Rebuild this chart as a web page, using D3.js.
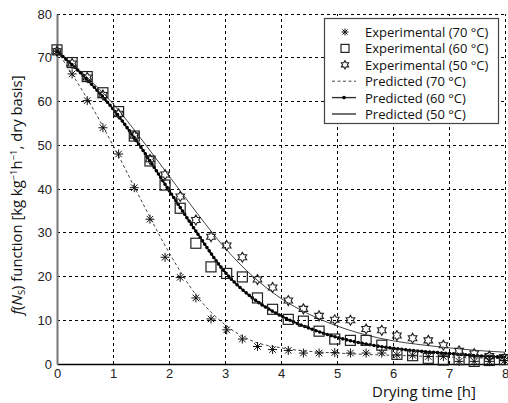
<!DOCTYPE html>
<html>
<head>
<meta charset="utf-8">
<script src="https://cdn.jsdelivr.net/npm/d3@7/dist/d3.min.js"></script>
<style>
  html, body { margin: 0; padding: 0; background: #fff; }
  svg { display: block; }
</style>
</head>
<body>
<svg id="chart" width="508" height="403"></svg>
<script>
// Drying time [h] of the experimental samples (shared by all three temperatures)
const timeExp = [0, 0.27, 0.54, 0.82, 1.1, 1.38, 1.66, 1.93, 2.2, 2.48, 2.75, 3.03, 3.31, 3.58, 3.85,
                 4.13, 4.4, 4.68, 4.96, 5.24, 5.52, 5.8, 6.07, 6.35, 6.63, 6.9, 7.18, 7.45, 7.72, 7.99];
const exp70 = [71.5, 66.3, 60.2, 54.0, 48.0, 40.3, 33.1, 24.4, 19.8, 15.1, 10.3, 7.8, 5.7, 4.0, 3.3,
               3.1, 2.5, 2.5, 2.6, 2.5, 2.5, 2.5, 2.1, 2.0, 1.7, 1.7, 0.6, 0.6, 0.6, 0.8];
const exp60 = [71.8, 68.9, 65.7, 62.0, 57.7, 52.1, 46.4, 40.9, 35.6, 27.6, 22.2, 20.7, 19.9, 15.1, 12.5,
               10.2, 9.8, 7.5, 5.7, 5.4, 5.4, 4.3, 2.2, 1.9, 1.3, 0.9, 1.0, 0.6, 0.8, 1.0];
const exp50 = [71.5, 68.7, 65.5, 61.5, 57.2, 52.2, 46.8, 43.3, 38.3, 32.9, 29.1, 27.1, 24.4, 19.3, 17.5,
               14.5, 12.6, 11.0, 10.1, 10.0, 8.0, 7.7, 6.5, 5.9, 5.4, 4.3, 3.0, 2.4, 1.8, 1.3];

// Model predictions
const timePred = [0, 0.5, 1, 1.5, 2, 2.5, 3, 3.5, 4, 4.5, 5, 5.5, 6, 6.5, 7, 7.5, 8];
const pred70 = [71.5, 61.5, 50.0, 37.5, 25.5, 15.5, 9.0, 5.2, 3.7, 2.9, 2.5, 2.2, 2.0, 1.8, 1.6, 1.4, 1.2];
const pred60 = [71.5, 65.5, 58.3, 49.5, 39.7, 30.0, 21.0, 15.0, 11.0, 8.2, 6.1, 4.6, 3.6, 2.9, 2.4, 1.9, 1.6];
const pred50 = [71.5, 66.0, 59.5, 51.5, 43.0, 34.5, 26.5, 20.0, 15.0, 11.4, 8.7, 6.7, 5.3, 4.4, 3.7, 3.1, 2.7];

const xTicks = [0, 1, 2, 3, 4, 5, 6, 7, 8];
const yTicks = [0, 10, 20, 30, 40, 50, 60, 70, 80];
const legendLabels = ["Experimental (70 °C)", "Experimental (60 °C)", "Experimental (50 °C)",
                      "Predicted (70 °C)", "Predicted (60 °C)", "Predicted (50 °C)"];

const svg = d3.select("#chart");
const m = { left: 57, right: 3, top: 14, bottom: 39 };
const W = 508, H = 403;

const x = d3.scaleLinear().domain([0, 8]).range([m.left, W - m.right]);
const y = d3.scaleLinear().domain([0, 80]).range([H - m.bottom, m.top]);

// dashed grid
const grid = svg.append("g").attr("stroke", "#000").attr("stroke-width", 1)
  .attr("stroke-dasharray", "3,3").attr("shape-rendering", "crispEdges");
grid.selectAll("line.gx").data(xTicks.filter(d => d > 0)).join("line")
  .attr("x1", d => x(d)).attr("x2", d => x(d)).attr("y1", y(0)).attr("y2", y(80));
grid.selectAll("line.gy").data(yTicks.filter(d => d > 0)).join("line")
  .attr("x1", x(0)).attr("x2", x(8)).attr("y1", d => y(d)).attr("y2", d => y(d));

// axes
const fontTick = "'Liberation Sans', Arial, sans-serif";
const xAxis = svg.append("g").attr("transform", `translate(0,${y(0)})`)
  .call(d3.axisBottom(x).tickValues(xTicks).tickSize(0).tickPadding(4.5));
xAxis.select(".domain").attr("stroke", "#000").attr("stroke-width", 1.3);
xAxis.selectAll("text").attr("font-family", fontTick).attr("font-size", 13).attr("fill", "#222");

const yAxis = svg.append("g").attr("transform", `translate(${x(0)},0)`)
  .call(d3.axisLeft(y).tickValues(yTicks).tickSize(0).tickPadding(5));
yAxis.select(".domain").attr("stroke", "#777").attr("stroke-width", 2);
yAxis.selectAll("text").attr("font-family", fontTick).attr("font-size", 13).attr("fill", "#222");

// axis titles
const fontLabel = "'Open Sans', 'Noto Sans', sans-serif";
svg.append("text").attr("x", 424).attr("y", 397).attr("text-anchor", "middle")
  .attr("font-family", fontLabel).attr("font-size", 15).attr("fill", "#111")
  .text("Drying time [h]");

const yl = svg.append("text")
  .attr("transform", `translate(22,${(y(0) + y(80)) / 2 + 6}) rotate(-90)`)
  .attr("text-anchor", "middle").attr("font-family", fontLabel).attr("font-size", 14.8).attr("fill", "#111");
yl.append("tspan").attr("font-style", "italic").text("f");
yl.append("tspan").text("(");
yl.append("tspan").attr("font-style", "italic").text("N");
yl.append("tspan").attr("font-size", 9.5).attr("dy", 3).text("S");
yl.append("tspan").attr("dy", -3).text(") function [kg kg");
yl.append("tspan").attr("font-size", 9.5).attr("dy", -5).text("−1");
yl.append("tspan").attr("dy", 5).text("h");
yl.append("tspan").attr("font-size", 9.5).attr("dy", -5).text("−1");
yl.append("tspan").attr("dy", 5).text(", dry basis]");

// predicted curves
const mkLine = vals => d3.line().x((d, i) => x(timePred[i])).y(d => y(d)).curve(d3.curveMonotoneX)(vals);

svg.append("path").attr("d", mkLine(pred70)).attr("fill", "none")
  .attr("stroke", "#444").attr("stroke-width", 1).attr("stroke-dasharray", "3,2.5");
svg.append("path").attr("d", mkLine(pred50)).attr("fill", "none")
  .attr("stroke", "#444").attr("stroke-width", 1);
svg.append("path").attr("d", mkLine(pred60)).attr("fill", "none")
  .attr("stroke", "#000").attr("stroke-width", 1.4);
svg.append("path").attr("d", mkLine(pred60)).attr("fill", "none")
  .attr("stroke", "#000").attr("stroke-width", 3.6).attr("stroke-linecap", "round")
  .attr("stroke-dasharray", "0,4");

// marker shapes
function asterisk(g, r) {
  g.append("path").attr("d",
    `M${-r},0L${r},0M0,${-r}L0,${r}M${-r * 0.72},${-r * 0.72}L${r * 0.72},${r * 0.72}M${-r * 0.72},${r * 0.72}L${r * 0.72},${-r * 0.72}`)
    .attr("stroke", "#111").attr("stroke-width", 1).attr("fill", "none");
}
function square(g, s) {
  g.append("rect").attr("x", -s / 2).attr("y", -s / 2).attr("width", s).attr("height", s)
    .attr("fill", "none").attr("stroke", "#222").attr("stroke-width", 1.2);
}
function hexagram(g, R) {
  const rIn = R * 0.58, pts = [];
  for (let k = 0; k < 12; k++) {
    const a = -Math.PI / 2 + k * Math.PI / 6, rr = k % 2 === 0 ? R : rIn;
    pts.push([rr * Math.cos(a), rr * Math.sin(a)]);
  }
  g.append("path").attr("d", "M" + pts.map(p => p.join(",")).join("L") + "Z")
    .attr("fill", "none").attr("stroke", "#222").attr("stroke-width", 1.1);
}

function drawSeries(vals, drawFn, size) {
  const g = svg.append("g");
  vals.forEach((v, i) => {
    const mk = g.append("g").attr("transform", `translate(${x(timeExp[i])},${y(v)})`);
    drawFn(mk, size);
  });
}
drawSeries(exp50, hexagram, 5);
drawSeries(exp60, square, 10);
drawSeries(exp70, asterisk, 4.5);

// legend
const lg = svg.append("g");
lg.append("rect").attr("x", 324.5).attr("y", 18.5).attr("width", 174).attr("height", 105)
  .attr("fill", "#fff").attr("stroke", "#444").attr("stroke-width", 1.2);
const rowY = i => 32 + i * 16.4;
legendLabels.forEach((lab, i) => {
  lg.append("text").attr("x", 365).attr("y", rowY(i) + 5)
    .attr("font-family", fontLabel).attr("font-size", 13).attr("fill", "#111").text(lab);
});
asterisk(lg.append("g").attr("transform", `translate(345,${rowY(0)})`), 3.5);
square(lg.append("g").attr("transform", `translate(345,${rowY(1)})`), 8);
hexagram(lg.append("g").attr("transform", `translate(345,${rowY(2)})`), 4.2);
lg.append("line").attr("x1", 332).attr("x2", 356).attr("y1", rowY(3)).attr("y2", rowY(3))
  .attr("stroke", "#444").attr("stroke-dasharray", "3,2.5");
lg.append("line").attr("x1", 332).attr("x2", 356).attr("y1", rowY(4)).attr("y2", rowY(4))
  .attr("stroke", "#333").attr("stroke-width", 1.4);
lg.append("circle").attr("cx", 344).attr("cy", rowY(4)).attr("r", 1.8).attr("fill", "#000");
lg.append("line").attr("x1", 332).attr("x2", 356).attr("y1", rowY(5)).attr("y2", rowY(5))
  .attr("stroke", "#000").attr("stroke-width", 1.1);
</script>
</body>
</html>
